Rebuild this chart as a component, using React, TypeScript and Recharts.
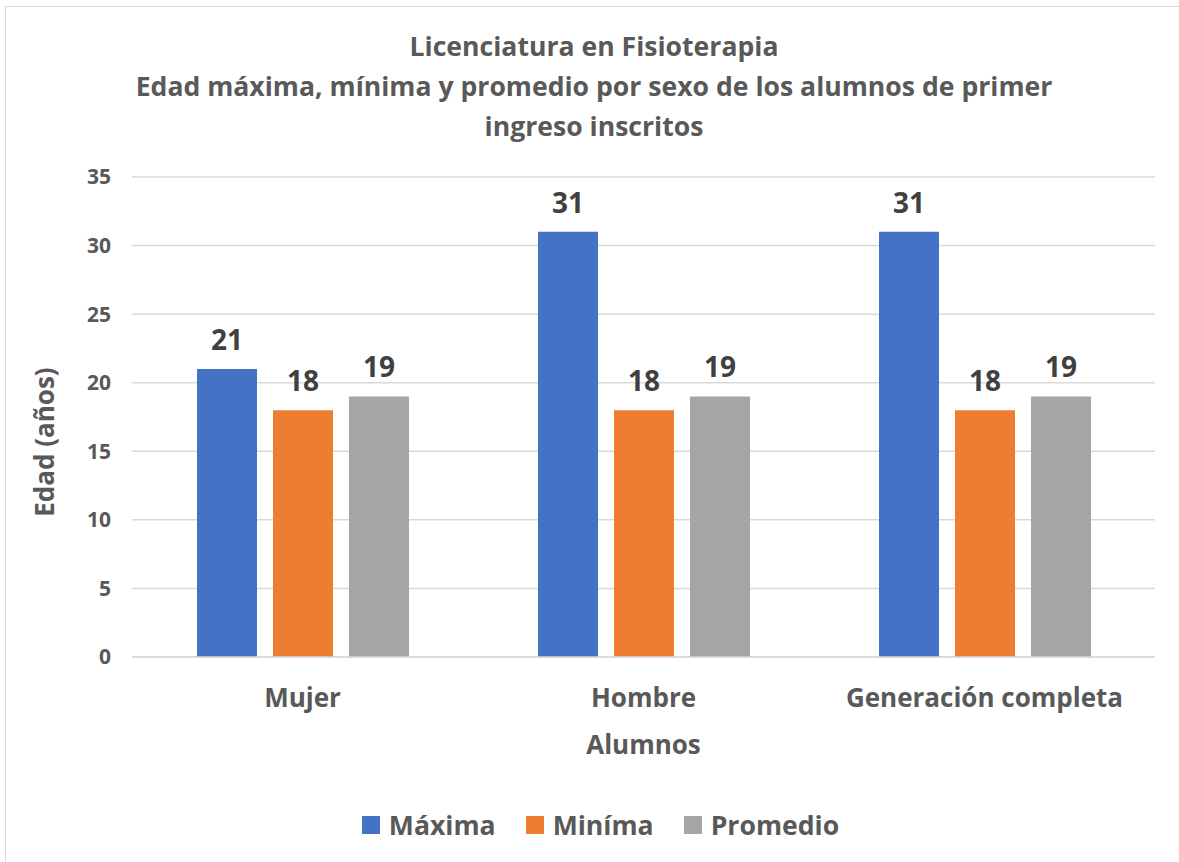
import React from "react";
import { BarChart, Bar, XAxis, YAxis, CartesianGrid, Legend, LabelList, Label } from "recharts";

const categories = ["Mujer", "Hombre", "Generación completa"];
const maxima = [21, 31, 31];
const minima = [18, 18, 18];
const promedio = [19, 19, 19];
const yTicks = [0, 5, 10, 15, 20, 25, 30, 35];
const titleLines = [
  "Licenciatura en Fisioterapia",
  "Edad máxima, mínima y promedio por sexo de los alumnos de primer",
  "ingreso inscritos",
];
const seriesNames = ["Máxima", "Miníma", "Promedio"];
const colors = ["#4472C4", "#ED7D31", "#A5A5A5"];

const data = categories.map((c, i) => ({
  name: c,
  maxima: maxima[i],
  minima: minima[i],
  promedio: promedio[i],
}));

const FONT = "'Open Sans', sans-serif";

const renderLegend = (props: any) => {
  const payload = [...(props.payload || [])].sort(
    (a: any, b: any) => seriesNames.indexOf(a.value) - seriesNames.indexOf(b.value)
  );
  return (
    <div style={{ display: "flex", justifyContent: "center", alignItems: "center", fontFamily: FONT, paddingLeft: 44, paddingTop: 5 }}>
      {payload.map((p: any, i: number) => (
        <div key={i} style={{ display: "flex", alignItems: "center", marginRight: i < payload.length - 1 ? 30 : 0 }}>
          <div style={{ width: 18, height: 18, background: p.color, marginRight: 9 }} />
          <span style={{ fontSize: 26.6, fontWeight: 700, color: "#595959" }}>{p.value}</span>
        </div>
      ))}
    </div>
  );
};

export default function App() {
  return (
    <div style={{ position: "fixed", left: 0, top: 0, width: 1179, height: 862, overflow: "hidden", background: "#fff" }}>
      <div style={{ position: "absolute", left: 5, top: 6, width: 1300, height: 1000, border: "1.5px solid #d9d9d9" }} />
      <div style={{ position: "absolute", left: 0, top: 26, width: 1188, textAlign: "center", fontFamily: FONT, fontWeight: 700, fontSize: 26.6, color: "#595959", lineHeight: "40px" }}>
        {titleLines.map((t, i) => (
          <div key={i}>{t}</div>
        ))}
      </div>
      <div style={{ position: "absolute", left: 0, top: 0 }}>
        <BarChart
          width={1179}
          height={862}
          data={data}
          margin={{ top: 177, right: 24, left: 2, bottom: 10 }}
          barGap={16}
          barSize={60}
        >
          <CartesianGrid vertical={false} stroke="#d9d9d9" strokeWidth={1.5} />
          <YAxis
            width={130}
            domain={[0, 35]}
            ticks={yTicks}
            axisLine={false}
            tickLine={false}
            tick={{ fill: "#595959", fontSize: 21, fontWeight: 700, fontFamily: FONT }}
            tickMargin={15}
          >
            <Label
              value="Edad (años)"
              angle={-90}
              position="insideLeft"
              offset={43}
              style={{ fill: "#595959", fontSize: 26, fontWeight: 700, fontFamily: FONT, textAnchor: "middle" }}
              dy={25}
            />
          </YAxis>
          <XAxis
            dataKey="name"
            height={145}
            axisLine={{ stroke: "#d9d9d9", strokeWidth: 1.5 }}
            tickLine={false}
            tick={{ fill: "#595959", fontSize: 26, fontWeight: 700, fontFamily: FONT }}
            tickMargin={26}
          >
            <Label
              value="Alumnos"
              position="insideTop"
              offset={79}
              style={{ fill: "#595959", fontSize: 26, fontWeight: 700, fontFamily: FONT }}
            />
          </XAxis>
          <Legend verticalAlign="bottom" height={50} content={renderLegend} />
          <Bar dataKey="maxima" name={seriesNames[0]} fill={colors[0]} isAnimationActive={false}>
            <LabelList dataKey="maxima" position="top" offset={19} style={{ fill: "#404040", fontSize: 28, fontWeight: 700, fontFamily: FONT }} />
          </Bar>
          <Bar dataKey="minima" name={seriesNames[1]} fill={colors[1]} isAnimationActive={false}>
            <LabelList dataKey="minima" position="top" offset={19} style={{ fill: "#404040", fontSize: 28, fontWeight: 700, fontFamily: FONT }} />
          </Bar>
          <Bar dataKey="promedio" name={seriesNames[2]} fill={colors[2]} isAnimationActive={false}>
            <LabelList dataKey="promedio" position="top" offset={19} style={{ fill: "#404040", fontSize: 28, fontWeight: 700, fontFamily: FONT }} />
          </Bar>
        </BarChart>
      </div>
    </div>
  );
}
